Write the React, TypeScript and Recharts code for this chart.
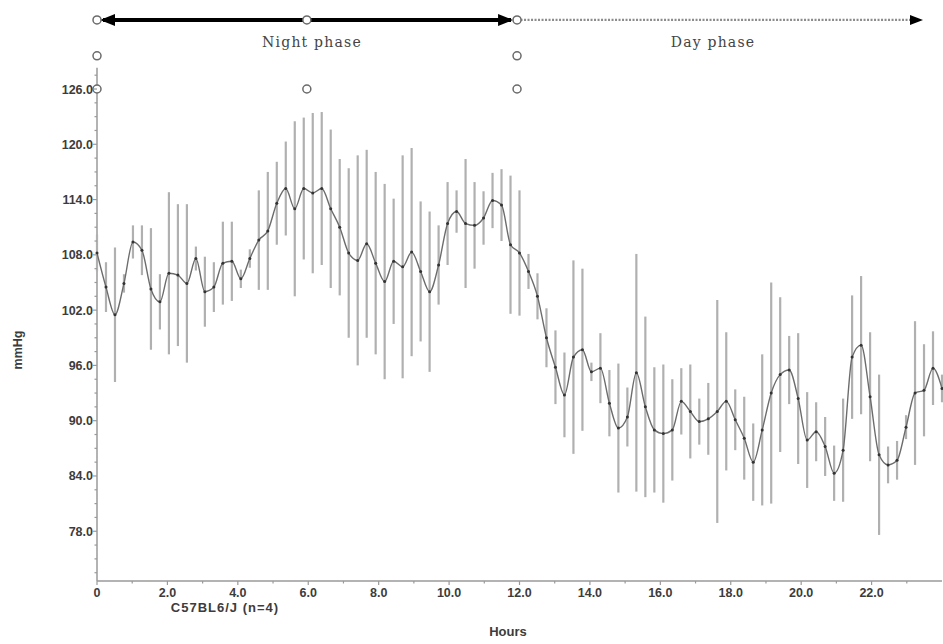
import { ComposedChart, ErrorBar, Line, ReferenceLine, Scatter, XAxis, YAxis } from "recharts";

// C57BL6/J blood pressure, one bin after another over the 24 h recording
const meanPressure = [
  108.2, 104.5, 101.5, 104.9, 109.4, 108.5, 104.3, 102.9, 106.0, 105.8,
  104.9, 107.6, 104.0, 104.5, 107.1, 107.3, 105.4, 107.6, 109.6, 110.6,
  113.6, 115.2, 113.0, 115.2, 114.7, 115.2, 113.0, 111.0, 108.2, 107.4,
  109.2, 107.1, 105.1, 107.3, 106.7, 108.3, 106.2, 104.0, 106.9, 111.4,
  112.7, 111.4, 111.2, 112.0, 113.9, 113.4, 109.1, 108.2, 106.2, 103.5,
  99.0, 95.8, 92.8, 96.9, 97.7, 95.3, 95.7, 91.9, 89.2, 90.4,
  95.2, 91.5, 89.0, 88.6, 89.0, 92.1, 91.0, 89.9, 90.2, 91.0,
  92.1, 90.1, 88.1, 85.5, 89.0, 93.0, 95.0, 95.5, 92.4, 87.9,
  88.8, 87.2, 84.3, 86.8, 96.9, 98.2, 92.6, 86.3, 85.2, 85.7,
  89.3, 93.0, 93.3, 95.7, 93.5
];

const sdPressure = [
  2.0, 2.7, 7.3, 1.0, 1.8, 2.7, 6.6, 3.0, 8.8, 7.7,
  8.6, 1.3, 3.8, 2.7, 4.5, 4.3, 1.0, 1.0, 5.4, 6.4,
  4.5, 5.1, 9.5, 7.7, 8.7, 8.3, 8.6, 7.4, 9.2, 11.4,
  10.2, 9.9, 10.6, 6.8, 12.1, 11.3, 7.6, 8.7, 4.3, 4.5,
  2.3, 7.0, 4.7, 2.9, 3.0, 3.9, 7.5, 6.8, 1.9, 2.5,
  3.2, 4.0, 4.6, 10.5, 8.8, 1.0, 3.8, 3.6, 7.0, 3.2,
  12.9, 9.8, 6.8, 7.5, 5.5, 3.6, 5.1, 2.5, 3.9, 12.1,
  7.5, 3.3, 4.5, 4.2, 8.2, 12.0, 8.4, 3.7, 7.1, 5.2,
  3.2, 3.2, 3.0, 5.6, 6.7, 7.5, 7.0, 8.7, 2.0, 2.1,
  1.3, 7.8, 5.0, 4.0, 1.5
];

const hourTicks = [0, 1, 2, 3, 4, 5, 6, 7, 8, 9, 10, 11, 12, 13, 14, 15, 16, 17, 18, 19, 20, 21, 22, 23];
const hourLabels = [0, 2, 4, 6, 8, 10, 12, 14, 16, 18, 20, 22];

const pressureTicks = [
  73.5, 75, 76.5, 78, 79.5, 81, 82.5, 84, 85.5, 87, 88.5, 90, 91.5, 93, 94.5, 96, 97.5, 99,
  100.5, 102, 103.5, 105, 106.5, 108, 109.5, 111, 112.5, 114, 115.5, 117, 118.5, 120, 121.5,
  123, 124.5, 126, 127.5
];
const pressureLabels = [78, 84, 90, 96, 102, 108, 114, 120, 126];

// phase arrows and the open markers above the plot
const nightPhase = [0, 11.93];
const dayPhase = [11.93, 23.46];
const phaseRow = 133.5;
const phaseMarkers = [
  { hour: 0, value: 133.5 },
  { hour: 5.96, value: 133.5 },
  { hour: 11.93, value: 133.5 },
  { hour: 0, value: 129.6 },
  { hour: 11.93, value: 129.6 },
  { hour: 0, value: 126 },
  { hour: 5.96, value: 126 },
  { hour: 11.93, value: 126 }
];

const data = meanPressure.map((mean, i) => ({
  hour: (i * 24) / (meanPressure.length - 1),
  mean,
  sd: sdPressure[i]
}));

const axisColor = "#9a9a9a";
const labelFont = "'Liberation Sans', Arial, sans-serif";

function PressureTick(props: any) {
  const { x, y, payload } = props;
  const major = pressureLabels.includes(payload.value);
  return (
    <g>
      <line x1={x - (major ? 4 : 2.5)} x2={x} y1={y} y2={y} stroke={axisColor} strokeWidth={1.2} />
      {major && (
        <text x={x - 4} y={y} dy={4.5} textAnchor="end" fontFamily={labelFont} fontWeight="bold" fontSize={12.5} fill="#3c3c3c">
          {payload.value.toFixed(1)}
        </text>
      )}
    </g>
  );
}

function HourTick(props: any) {
  const { x, y, payload } = props;
  const major = hourLabels.includes(payload.value);
  return (
    <g>
      <line x1={x} x2={x} y1={y} y2={y + (major ? 4 : 2.5)} stroke={axisColor} strokeWidth={1.2} />
      {major && (
        <text x={x} y={y} dy={16} textAnchor="middle" fontFamily={labelFont} fontWeight="bold" fontSize={12.5} fill="#3c3c3c">
          {payload.value === 0 ? "0" : payload.value.toFixed(1)}
        </text>
      )}
    </g>
  );
}

function NightArrow(props: any) {
  const { x1, x2, y1 } = props;
  return (
    <g>
      <line x1={x1 + 6} x2={x2 - 6} y1={y1} y2={y1} stroke="#000" strokeWidth={4} />
      <polygon points={`${x1 + 3},${y1} ${x1 + 18},${y1 - 6} ${x1 + 18},${y1 + 6}`} fill="#000" />
      <polygon points={`${x2 - 4},${y1} ${x2 - 19},${y1 - 6} ${x2 - 19},${y1 + 6}`} fill="#000" />
    </g>
  );
}

function DayArrow(props: any) {
  const { x1, x2, y1 } = props;
  return (
    <g>
      <line x1={x1} x2={x2 - 10} y1={y1} y2={y1} stroke="#8c8c8c" strokeWidth={2.2} strokeDasharray="2 1.5" />
      <polygon points={`${x2},${y1} ${x2 - 13},${y1 - 5} ${x2 - 13},${y1 + 5}`} fill="#000" />
    </g>
  );
}

function OpenMarker(props: any) {
  return <circle cx={props.cx} cy={props.cy} r={4} fill="#fff" stroke="#6a6a6a" strokeWidth={1.5} />;
}

export default function App() {
  return (
    <div style={{ position: "absolute", left: 0, top: 0, width: 943, height: 644, background: "#fff" }}>
      <ComposedChart width={943} height={644} data={data} margin={{ top: 10.7, right: 1, bottom: 33, left: 0 }}>
        <XAxis
          dataKey="hour"
          type="number"
          domain={[0, 24]}
          ticks={hourTicks}
          interval={0}
          height={30}
          tickSize={0}
          tickMargin={0}
          tickLine={false}
          axisLine={{ stroke: axisColor, strokeWidth: 1.5 }}
          tick={<HourTick />}
        />
        <YAxis
          type="number"
          domain={[72.6, 134.5]}
          ticks={pressureTicks}
          interval={0}
          width={97}
          tickSize={0}
          tickMargin={0}
          tickLine={false}
          axisLine={false}
          tick={<PressureTick />}
        />
        <ReferenceLine
          segment={[{ x: 0, y: 72.6 }, { x: 0, y: 128.3 }]}
          stroke={axisColor}
          strokeWidth={1.5}
        />
        <ReferenceLine
          segment={[{ x: nightPhase[0], y: phaseRow }, { x: nightPhase[1], y: phaseRow }]}
          shape={NightArrow}
        />
        <ReferenceLine
          segment={[{ x: dayPhase[0], y: phaseRow }, { x: dayPhase[1], y: phaseRow }]}
          shape={DayArrow}
        />
        <Line dataKey="mean" stroke="none" dot={false} activeDot={false} isAnimationActive={false}>
          <ErrorBar dataKey="sd" direction="y" width={0} stroke="#b0b0b0" strokeWidth={2.2} isAnimationActive={false} />
        </Line>
        <Line
          dataKey="mean"
          type="monotone"
          stroke="#6c6c6c"
          strokeWidth={1.4}
          dot={{ r: 1.5, fill: "#333", stroke: "none" }}
          activeDot={false}
          isAnimationActive={false}
        />
        <Scatter data={phaseMarkers} dataKey="value" shape={OpenMarker} isAnimationActive={false} />
      </ComposedChart>

      <div style={{ position: "absolute", left: 262, top: 34, width: 100, textAlign: "center", fontFamily: "'DejaVu Serif', serif", fontSize: 14, letterSpacing: 1.2, color: "#444", whiteSpace: "nowrap" }}>
        Night phase
      </div>
      <div style={{ position: "absolute", left: 663, top: 34, width: 100, textAlign: "center", fontFamily: "'DejaVu Serif', serif", fontSize: 14, letterSpacing: 1.2, color: "#444", whiteSpace: "nowrap" }}>
        Day phase
      </div>
      <div style={{ position: "absolute", left: 10, top: 342, width: 16, height: 16, display: "flex", alignItems: "center", justifyContent: "center" }}>
        <span style={{ transform: "rotate(-90deg)", fontFamily: labelFont, fontWeight: "bold", fontSize: 12.5, color: "#3c3c3c", whiteSpace: "nowrap" }}>mmHg</span>
      </div>
      <div style={{ position: "absolute", left: 150, top: 601, width: 150, lineHeight: "14px", textAlign: "center", fontFamily: labelFont, fontWeight: "bold", fontSize: 13, letterSpacing: 1, color: "#3c3c3c", whiteSpace: "nowrap" }}>
        C57BL6/J (n=4)
      </div>
      <div style={{ position: "absolute", left: 458, top: 625, width: 100, lineHeight: "14px", textAlign: "center", fontFamily: labelFont, fontWeight: "bold", fontSize: 13, color: "#3c3c3c" }}>
        Hours
      </div>
    </div>
  );
}
